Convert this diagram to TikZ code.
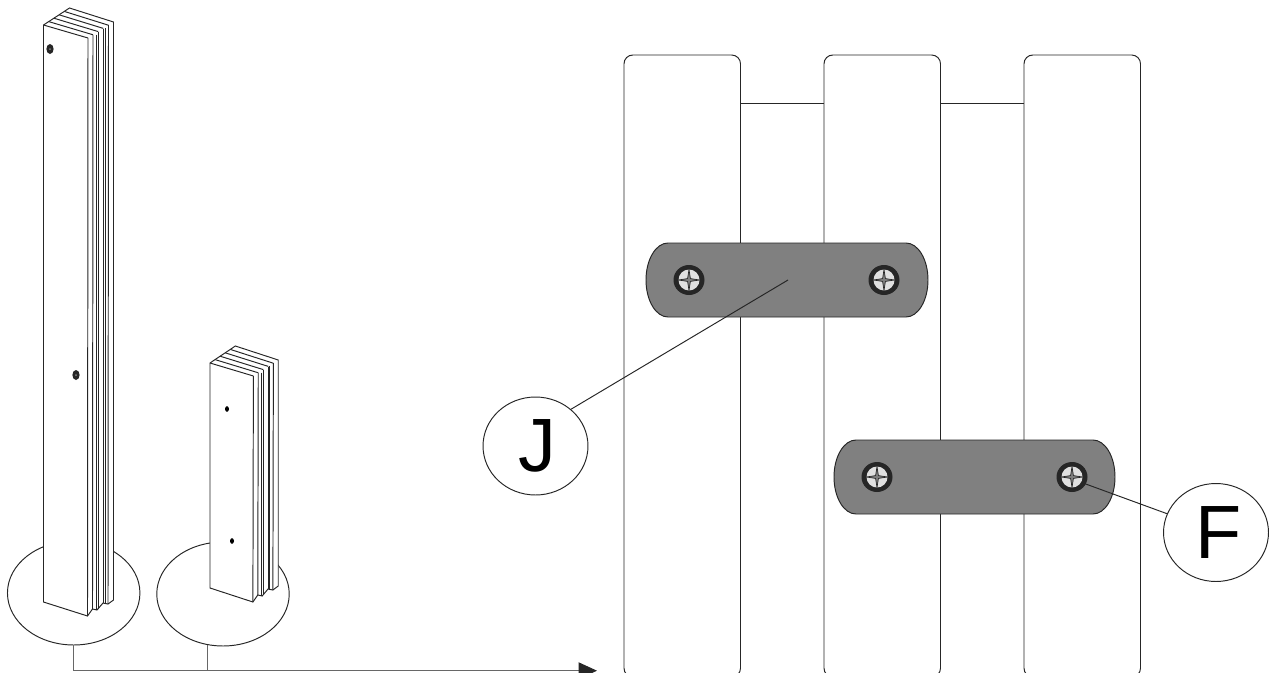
\documentclass[tikz,border=0pt]{standalone}
\usepackage{fontspec}
\setmainfont{Liberation Sans}
\usetikzlibrary{shapes.geometric}
\usetikzlibrary{arrows.meta}

\definecolor{strapgrey}{HTML}{808080}
\definecolor{inkdark}{HTML}{262626}
\definecolor{screwlight}{HTML}{E0E0E0}
\tikzset{
    outline/.style={draw=inkdark, line width=0.55pt},
    zoomring/.style={ellipse, outline, inner sep=0pt, minimum width=2.65cm, minimum height=2.08cm},
    callout/.style={ellipse, outline, fill=white, inner sep=0pt, minimum width=2.1cm, minimum height=1.96cm, font=\fontsize{43}{43}\selectfont},
    strapbox/.style={outline, fill=strapgrey}
}

\begin{document}
\begin{tikzpicture}[x=0.02cm, y=-0.02cm]
    \useasboundingbox (0,0) rectangle (1275,673);
    \clip (0,0) rectangle (1275,673);

    % zoom rings behind the posts
    \node[zoomring] (ringA) at (73.7,593) {};
    \node[zoomring] (ringB) at (223,594) {};

    % posts
    \foreach \px/\py/\ph/\pw in {43.5/25/577/1, 210/363/225/0.975} {
        \begin{scope}[shift={(\px,\py)}, xscale=\pw]
            \draw[outline, fill=white] (0,0) -- (26,-17) -- (70,-3) -- (70,\ph-2)
                -- (64.5,\ph+2) -- (59.5,\ph+1) -- (53.5,\ph+8) -- (49,\ph+7) -- (44,\ph+14)
                -- (0,\ph) -- cycle;
            % top of the boards
            \foreach \t in {0.2,0.4,0.6,0.8} {
                \draw[outline] (26*\t,-17*\t) -- (44.5+25.5*\t,13-16*\t);
            }
            \draw[outline] (0,0) -- (44.5,13);
            % side of the boards
            \draw[outline] (44.5,13) -- (44,\ph+14);
            \draw[outline] (49.5,10) -- (49,\ph+7);
            \draw[outline] (52.5,9.5) -- (52.5,\ph+7.5);
            \draw[outline] (54.5,7) -- (54.5,\ph+7);
            \draw[outline] (59.5,3.5) -- (59.5,\ph+1);
            \draw[outline] (61.5,3) -- (61.5,\ph+1.5);
            \draw[outline] (65,0) -- (64.5,\ph+2);
        \end{scope}
    }

    % holes
    \foreach \hx/\hy in {50/49, 76/375} {
        \fill[inkdark] (\hx,\hy) ellipse (3.6 and 5);
        \fill[strapgrey] (\hx,\hy) circle (1);
    }
    \foreach \hx/\hy in {227/409, 232/541} {
        \fill[black] (\hx,\hy) ellipse (2 and 2.8);
    }

    % connector to the detail
    \coordinate (arrowEnd) at (597,670.7);
    \draw[outline, draw=inkdark!70, -{Triangle[length=10.5pt, width=9.5pt, inkdark]}] (ringA.south) |- (arrowEnd);
    \draw[outline, draw=inkdark!70] (ringB.253) -- (ringB.253 |- arrowEnd);

    % planks
    \draw[outline] (741,103) -- (824,103);
    \draw[outline] (941,103) -- (1024,103);
    \foreach \plx in {624,824,1024} {
        \draw[outline, fill=white, rounded corners=5] (\plx,55) rectangle (\plx+116.5,677);
    }

    % straps
    \draw[strapbox] (668,243) -- (906,243) arc[start angle=-90, end angle=90, x radius=22, y radius=37]
        -- (668,317) arc[start angle=90, end angle=270, x radius=22, y radius=37] -- cycle;
    \draw[strapbox] (856,440) -- (1093,440) arc[start angle=-90, end angle=90, x radius=22, y radius=37]
        -- (856,514) arc[start angle=90, end angle=270, x radius=22, y radius=37] -- cycle;

    % screws
    \foreach \sx/\sy in {689/280, 884/280, 877/477, 1072/477} {
        \begin{scope}[shift={(\sx,\sy)}]
            \fill[inkdark] (0,0) ellipse (15.5 and 15);
            \fill[screwlight] (0,0) circle (10.5);
            \draw[inkdark, fill=strapgrey, line width=0.4pt] (0,-10.5) -- (1.4,-1.4) -- (10.5,0)
                -- (1.4,1.4) -- (0,10.5) -- (-1.4,1.4) -- (-10.5,0) -- (-1.4,-1.4) -- cycle;
        \end{scope}
    }

    % callouts
    \node[callout] (calloutJ) at (535.5,446) {\kern2.4pt J};
    \node[callout] (calloutF) at (1216,532.5) {\kern3pt F};
    \coordinate (tipJ) at (788,280);
    \coordinate (tipF) at (1083,483);
    \draw[outline] (calloutJ.46) -- (tipJ);
    \draw[outline] (calloutF.159) -- (tipF);
\end{tikzpicture}
\end{document}
